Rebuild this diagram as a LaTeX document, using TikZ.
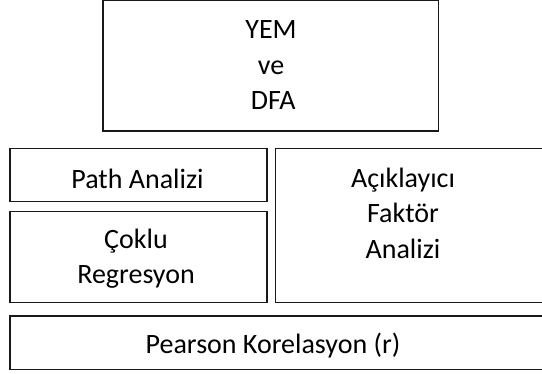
\documentclass[tikz,border=0pt]{standalone}
\usepackage{fontspec}
\setmainfont{Carlito}
\begin{document}
\begin{tikzpicture}[x=1pt,y=-1pt,
  box/.style={draw=black!90, line width=1.3pt},
  lbl/.style={font=\fontsize{28}{35.5}\selectfont, align=center, anchor=base, inner sep=0pt}]
\useasboundingbox (0,0) rectangle (542,374);
\clip (0,0) rectangle (542,374);
% frames (the right-hand ones run past the page edge)
\draw[box] (103,0.7) rectangle (438.5,131);
\draw[box] (10,148.7) rectangle (267,201.7);
\draw[box] (10,211.7) rectangle (267,302.3);
\draw[box] (275.7,148.7) rectangle (560,302.3);
\draw[box] (10,316) rectangle (560,369.3);
% labels (a multi-line label sits on the baseline of its last line)
\node[lbl] (yem) at (271,110) {YEM\\ve\\\,DFA};
\node[lbl] (path) at (137.5,188.3) {Path Analizi};
\node[lbl] (coklu) at (136,284) {Çoklu\\Regresyon};
\node[lbl] (afa) at (403,258.3) {Açıklayıcı\\Faktör\\Analizi};
\node[lbl] (pearson) at (273,353.3) {Pearson Korelasyon (r)};
\end{tikzpicture}
\end{document}
